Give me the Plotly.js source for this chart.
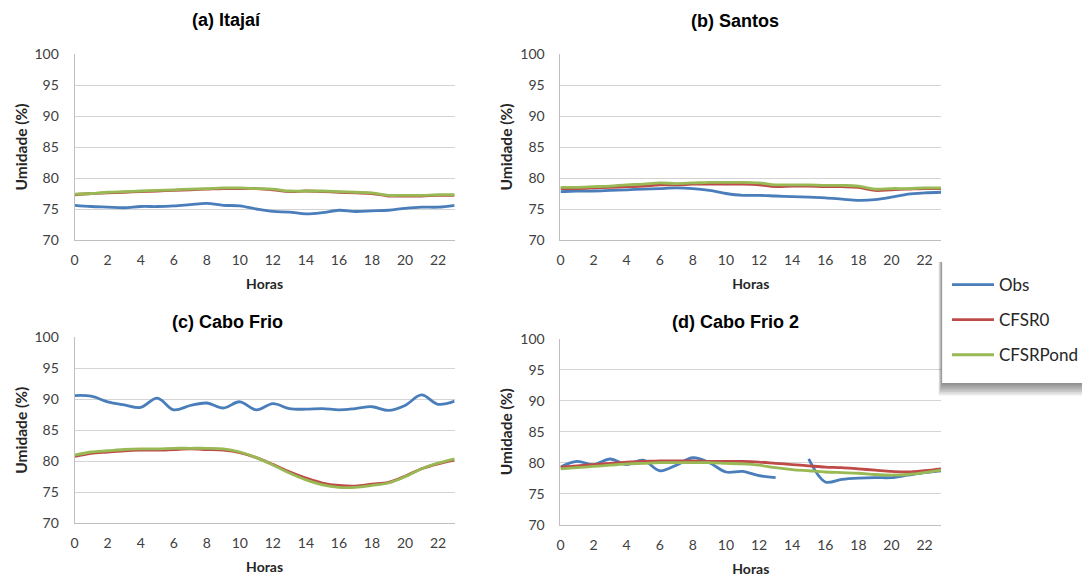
<!DOCTYPE html>
<html>
<head>
<meta charset="utf-8">
<script src="https://cdn.plot.ly/plotly-3.0.1.min.js"></script>
<style>
  html, body { margin: 0; padding: 0; background: #ffffff; }
  #chart { width: 1083px; height: 580px; }
</style>
</head>
<body>
<div id="chart"></div>
<script>
// Hourly mean relative humidity (%) at four coastal stations
const hours = [0, 1, 2, 3, 4, 5, 6, 7, 8, 9, 10, 11, 12, 13, 14, 15, 16, 17, 18, 19, 20, 21, 22, 23];
const seriesNames = ['Obs', 'CFSR0', 'CFSRPond'];
const panelTitles = ['(a) Itajaí', '(b) Santos', '(c) Cabo Frio', '(d) Cabo Frio 2'];
const xTickVals = [0, 2, 4, 6, 8, 10, 12, 14, 16, 18, 20, 22];
const yTickVals = [70, 75, 80, 85, 90, 95, 100];

const itajaiObs   = [75.6, 75.4, 75.3, 75.2, 75.4, 75.4, 75.5, 75.7, 75.9, 75.6, 75.5, 75.0, 74.6, 74.5, 74.2, 74.4, 74.8, 74.6, 74.7, 74.8, 75.1, 75.3, 75.3, 75.6];
const itajaiCfsr0 = [77.3, 77.5, 77.6, 77.7, 77.8, 77.9, 78.0, 78.1, 78.2, 78.3, 78.3, 78.3, 78.1, 77.8, 77.9, 77.8, 77.7, 77.6, 77.5, 77.1, 77.1, 77.1, 77.2, 77.2];
const itajaiPond  = [77.4, 77.5, 77.7, 77.8, 77.9, 78.0, 78.1, 78.2, 78.3, 78.4, 78.4, 78.3, 78.2, 77.9, 77.9, 77.9, 77.8, 77.7, 77.6, 77.2, 77.2, 77.2, 77.3, 77.3];

const santosObs   = [77.8, 77.9, 77.9, 78.0, 78.1, 78.2, 78.3, 78.4, 78.3, 78.0, 77.5, 77.2, 77.2, 77.1, 77.0, 76.9, 76.8, 76.6, 76.4, 76.5, 76.9, 77.4, 77.6, 77.7];
const santosCfsr0 = [78.3, 78.3, 78.4, 78.5, 78.6, 78.7, 78.9, 78.9, 79.0, 79.0, 79.0, 79.0, 78.9, 78.6, 78.7, 78.7, 78.6, 78.6, 78.5, 78.0, 78.1, 78.2, 78.3, 78.3];
const santosPond  = [78.5, 78.5, 78.6, 78.7, 78.9, 79.0, 79.2, 79.1, 79.2, 79.3, 79.3, 79.3, 79.2, 78.9, 78.9, 78.9, 78.8, 78.8, 78.7, 78.2, 78.3, 78.3, 78.4, 78.4];

const caboObs     = [90.6, 90.5, 89.6, 89.1, 88.7, 90.2, 88.3, 89.0, 89.4, 88.6, 89.6, 88.3, 89.3, 88.5, 88.4, 88.5, 88.3, 88.5, 88.8, 88.2, 89.0, 90.7, 89.2, 89.7];
const caboCfsr0   = [80.8, 81.3, 81.5, 81.7, 81.8, 81.8, 81.9, 82.0, 81.9, 81.8, 81.4, 80.6, 79.5, 78.3, 77.3, 76.5, 76.1, 76.0, 76.3, 76.6, 77.6, 78.8, 79.6, 80.2];
const caboPond    = [81.0, 81.5, 81.7, 81.9, 82.0, 82.0, 82.1, 82.1, 82.1, 82.0, 81.5, 80.6, 79.4, 78.1, 77.0, 76.2, 75.8, 75.8, 76.1, 76.5, 77.5, 78.8, 79.7, 80.4];

// hour 14 is missing in the observations
const cabo2Obs    = [79.3, 80.2, 79.7, 80.6, 79.7, 80.4, 78.7, 79.6, 80.8, 80.0, 78.5, 78.6, 77.9, 77.6, null, 80.6, 76.9, 77.3, 77.5, 77.6, 77.6, 78.0, 78.4, 78.7];
const cabo2Cfsr0  = [79.3, 79.5, 79.7, 79.9, 80.1, 80.2, 80.3, 80.3, 80.3, 80.2, 80.2, 80.2, 80.1, 79.9, 79.7, 79.5, 79.3, 79.2, 79.0, 78.8, 78.6, 78.5, 78.7, 79.0];
const cabo2Pond   = [79.0, 79.2, 79.4, 79.6, 79.8, 79.9, 80.0, 80.0, 80.0, 80.0, 79.9, 79.8, 79.6, 79.2, 78.9, 78.7, 78.5, 78.4, 78.3, 78.1, 78.0, 78.1, 78.4, 78.8];

const panels = [
  [itajaiObs, itajaiCfsr0, itajaiPond],
  [santosObs, santosCfsr0, santosPond],
  [caboObs, caboCfsr0, caboPond],
  [cabo2Obs, cabo2Cfsr0, cabo2Pond]
];
const colors = ['#4A7EBB', '#BE4B48', '#98B954'];

const W = 1083, H = 580;
const px = v => v / W;
const py = v => 1 - v / H;

const traces = [];
panels.forEach((series, p) => {
  const suffix = p === 0 ? '' : String(p + 1);
  series.forEach((vals, s) => {
    traces.push({
      type: 'scatter',
      mode: 'lines',
      x: hours,
      y: vals,
      name: seriesNames[s],
      legendgroup: seriesNames[s],
      showlegend: p === 0,
      connectgaps: false,
      line: { color: colors[s], width: 2.8, shape: 'spline', smoothing: 1 },
      xaxis: 'x' + suffix,
      yaxis: 'y' + suffix,
      hoverinfo: 'x+y+name'
    });
  });
});

const tickFont = { family: 'Lato, sans-serif', size: 14, color: '#404040' };
const xTitleFont = { family: 'Lato, sans-serif', size: 14, color: '#262626', weight: 'bold' };
const yTitleFont = { family: 'Lato, sans-serif', size: 15.5, color: '#262626', weight: 'bold' };

function xAxis(domain, anchor) {
  return {
    domain: domain, anchor: anchor, range: [0, 23],
    tickmode: 'array', tickvals: xTickVals, ticks: '',
    showgrid: false, zeroline: false,
    showline: true, linecolor: '#bfbfbf', linewidth: 1,
    tickfont: tickFont, ticklabelstandoff: 7,
    title: { text: 'Horas', font: xTitleFont, standoff: 12 },
    fixedrange: true
  };
}
function yAxis(domain, anchor) {
  return {
    domain: domain, anchor: anchor, range: [70, 100],
    tickmode: 'array', tickvals: yTickVals, ticks: '',
    showgrid: true, gridcolor: '#d4d4d4', gridwidth: 1, zeroline: false,
    showline: true, linecolor: '#bfbfbf', linewidth: 1,
    tickfont: tickFont, ticklabelstandoff: 12,
    title: { text: 'Umidade (%)', font: yTitleFont, standoff: 3 },
    fixedrange: true
  };
}

const leftX = [px(74.7), px(455)];
const rightX = [px(561), px(942)];
const topY = [py(240), py(54)];
const botYc = [py(523.3), py(337.3)];
const botYd = [py(524.7), py(338.7)];

const titleFont = { family: '"Liberation Sans", Arial, sans-serif', size: 18, color: '#000000', weight: 'bold' };
const titlePos = [[227, 20], [736, 21], [228, 322], [736, 322]];
const annotations = panelTitles.map((t, i) => ({
  text: t, xref: 'paper', yref: 'paper',
  x: px(titlePos[i][0]), y: py(titlePos[i][1]),
  xanchor: 'center', yanchor: 'middle', showarrow: false, font: titleFont
}));

// legend panel with a soft drop shadow
const shapes = [];
for (let i = 7; i >= 1; i--) {
  shapes.push({
    type: 'rect', xref: 'paper', yref: 'paper', layer: 'above',
    x0: px(943 - i * 0.5), x1: 1, y0: py(383 + i * 1.8), y1: py(262),
    fillcolor: 'rgba(0,0,0,0.075)', line: { width: 0 }
  });
}
shapes.push({
  type: 'rect', xref: 'paper', yref: 'paper', layer: 'above',
  x0: px(943), x1: 1, y0: py(383), y1: py(258),
  fillcolor: '#ffffff', line: { width: 0 }
});

const layout = {
  width: W, height: H,
  margin: { l: 0, r: 0, t: 0, b: 0 },
  paper_bgcolor: '#ffffff', plot_bgcolor: 'rgba(0,0,0,0)',
  showlegend: true,
  legend: {
    x: px(948), y: py(267), xanchor: 'left', yanchor: 'top',
    bgcolor: 'rgba(0,0,0,0)', borderwidth: 0,
    font: { family: 'Lato, sans-serif', size: 17, color: '#262626' },
    tracegroupgap: 10, itemwidth: 42
  },
  xaxis: xAxis(leftX, 'y'),
  yaxis: yAxis(topY, 'x'),
  xaxis2: xAxis(rightX, 'y2'),
  yaxis2: yAxis(topY, 'x2'),
  xaxis3: xAxis(leftX, 'y3'),
  yaxis3: yAxis(botYc, 'x3'),
  xaxis4: xAxis(rightX, 'y4'),
  yaxis4: yAxis(botYd, 'x4'),
  annotations: annotations,
  shapes: shapes
};

Plotly.newPlot('chart', traces, layout, { displayModeBar: false, staticPlot: true });
</script>
</body>
</html>
